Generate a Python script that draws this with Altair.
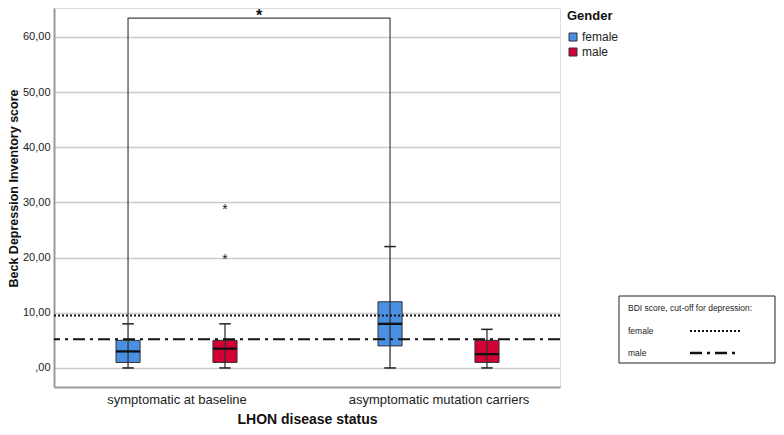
import altair as alt
import pandas as pd

# ---------------- data ----------------
categories = ["symptomatic at baseline", "asymptomatic mutation carriers"]
box_group = [0, 0, 1, 1]
box_gender = ["female", "male", "female", "male"]
box_lo = [0, 0, 0, 0]
box_q1 = [1, 1, 4, 1]
box_med = [3, 3.5, 8, 2.5]
box_q3 = [5, 5, 12, 5]
box_hi = [8, 8, 22, 7]

out_group = [0, 0]
out_gender = ["male", "male"]
out_val = [20, 29]

cut_gender = ["female", "male"]
cut_val = [9.5, 5.2]

brk_group = [0, 0, 1, 1]
brk_val = [8, 63.4, 63.4, 22]
sig_label = "*"

bdi_title = "BDI score, cut-off for depression:"
genders = ["female", "male"]
colors = ["#4a90e2", "#d20035"]

FONT = "Liberation Sans"
OFF = 0.185
HALF = 0.046
CAP = 0.022
XT = "LHON disease status"
YT = "Beck Depression Inventory score"
DASH_F = [2, 2]
DASH_M = [12, 5, 3, 5]

box = pd.DataFrame(dict(group=box_group, gender=box_gender, lo=box_lo, q1=box_q1,
                        med=box_med, q3=box_q3, hi=box_hi))
outl = pd.DataFrame(dict(group=out_group, gender=out_gender, val=out_val))
cuts = pd.DataFrame(dict(sex=cut_gender, cutoff=cut_val))
brk = pd.DataFrame(dict(group=brk_group, val=brk_val, idx=list(range(len(brk_val)))))

xscale = alt.Scale(domain=[-0.4676, 1.4637], nice=False, zero=False)
yscale = alt.Scale(domain=[-3.45, 65.24], nice=False, zero=False)

label_expr_x = "[" + ",".join("'" + c + "'" for c in categories) + "][datum.value]"
xaxis = alt.Axis(values=[0, 1], labelExpr=label_expr_x)
yaxis = alt.Axis(values=[0, 10, 20, 30, 40, 50, 60], titleY=180,
                 labelExpr="datum.value == 0 ? ',00' : replace(format(datum.value, '.2f'), '.', ',')")

def XX(f):
    return alt.X(f, scale=xscale, title=XT, axis=xaxis)

def YY(f):
    return alt.Y(f, scale=yscale, title=YT, axis=yaxis)

def xcalc(ch):
    return ch.transform_calculate(
        xc=f"datum.group + (datum.gender == 'female' ? {-OFF} : {OFF})"
    ).transform_calculate(
        xl=f"datum.xc - {HALF}", xr=f"datum.xc + {HALF}",
        cl=f"datum.xc - {CAP}", cr=f"datum.xc + {CAP}"
    )

base = xcalc(alt.Chart(box))

whisk = base.mark_rule(color="#333333", strokeWidth=1.3).encode(x=XX("xc:Q"), y=YY("lo:Q"), y2="hi:Q")
cap_lo = base.mark_rule(color="#222222", strokeWidth=1.5).encode(x=XX("cl:Q"), x2="cr:Q", y=YY("lo:Q"))
cap_hi = base.mark_rule(color="#222222", strokeWidth=1.5).encode(x=XX("cl:Q"), x2="cr:Q", y=YY("hi:Q"))
boxes = base.mark_rect(stroke="#333333", strokeWidth=1).encode(
    x=XX("xl:Q"), x2="xr:Q", y=YY("q1:Q"), y2="q3:Q",
    color=alt.Color("gender:N", scale=alt.Scale(domain=genders, range=colors),
                    title="Gender", legend=alt.Legend(orient="none", legendX=513, legendY=2)))
medians = base.mark_rule(color="#111111", strokeWidth=2.3).encode(x=XX("xl:Q"), x2="xr:Q", y=YY("med:Q"))

outs = xcalc(alt.Chart(outl)).mark_text(text="*", fontSize=14, font=FONT, color="#222222",
                                       baseline="middle", dy=2).encode(x=XX("xc:Q"), y=YY("val:Q"))

cut_f = alt.Chart(cuts).transform_filter(f"datum.sex == '{genders[0]}'").mark_rule(
    color="#111111", strokeWidth=2, strokeDash=DASH_F).encode(y=YY("cutoff:Q"))
cut_m = alt.Chart(cuts).transform_filter(f"datum.sex == '{genders[1]}'").mark_rule(
    color="#111111", strokeWidth=2, strokeDash=DASH_M).encode(y=YY("cutoff:Q"))

bracket = alt.Chart(brk).transform_calculate(
    xc=f"datum.group - {OFF}").mark_line(color="#444444", strokeWidth=1.2).encode(
    x=XX("xc:Q"), y=YY("val:Q"), order="idx:Q")

sig = alt.Chart(pd.DataFrame(dict(g0=[brk_group[0]], g1=[brk_group[-1]], val=[65.24], lab=[sig_label]))).transform_calculate(
    xc=f"(datum.g0 + datum.g1) / 2 - {OFF}").mark_text(fontSize=16, fontWeight="bold", font=FONT,
                                                       color="#111111", baseline="top", dy=0).encode(
    x=XX("xc:Q"), y=YY("val:Q"), text="lab:N")

# BDI cut-off legend box (annotation)
one = pd.DataFrame(dict(a=[0]))
frame = alt.Chart(one).mark_rect(fill="white", stroke="#222222", strokeWidth=1).encode(
    x=alt.value(565), x2=alt.value(721), y=alt.value(288), y2=alt.value(355))

def bdi_txt(t, yy):
    return alt.Chart(one).mark_text(align="left", baseline="middle", fontSize=8.5, font=FONT,
                                    color="#222222", text=t).encode(x=alt.value(574), y=alt.value(yy))

bdi_t1 = bdi_txt(bdi_title, 300)
bdi_t2 = bdi_txt(genders[0], 323)
bdi_t3 = bdi_txt(genders[1], 345)
sample_f = alt.Chart(one).mark_rule(color="#111111", strokeWidth=2, strokeDash=DASH_F).encode(
    x=alt.value(636), x2=alt.value(686), y=alt.value(323))
sample_m = alt.Chart(one).mark_rule(color="#111111", strokeWidth=2.5, strokeDash=DASH_M).encode(
    x=alt.value(636), x2=alt.value(686), y=alt.value(345))

chart = alt.layer(boxes, whisk, cut_f, cut_m, cap_lo, cap_hi, medians, outs, bracket, sig,
                  frame, bdi_t1, bdi_t2, bdi_t3, sample_f, sample_m).properties(
    width=506, height=379,
    autosize=alt.AutoSizeParams(type="none"),
    padding={"left": 46, "top": 0, "right": 216, "bottom": 40},
).configure_view(strokeWidth=0).configure(font=FONT).configure_axisX(
    ticks=False, grid=False, domainColor="#999999", domainWidth=2, labelFontSize=13,
    labelColor="#222222", labelPadding=6, labelLimit=0, titleFontSize=14, titleFontWeight="bold",
    titlePadding=6, labelFont=FONT, titleFont=FONT, titleColor="#111111"
).configure_axisY(
    ticks=False, grid=True, gridColor="#cccccc", gridWidth=1.5, domainColor="#999999",
    domainWidth=2, labelFontSize=11, labelColor="#222222", labelPadding=4, titleFontSize=12.5,
    titleFontWeight="bold", titlePadding=2, labelFont=FONT, titleFont=FONT, titleColor="#111111"
).configure_legend(
    titleFontSize=13, titleFontWeight="bold", titleFont=FONT, titleColor="#111111",
    labelFont=FONT, labelFontSize=12, labelColor="#222222", symbolType="square", symbolSize=64,
    symbolStrokeColor="#333333", symbolStrokeWidth=1, symbolOpacity=1, rowPadding=3,
    titlePadding=8, labelOffset=3
)

chart.save("out.html", embed_options={"renderer": "svg", "actions": False})
